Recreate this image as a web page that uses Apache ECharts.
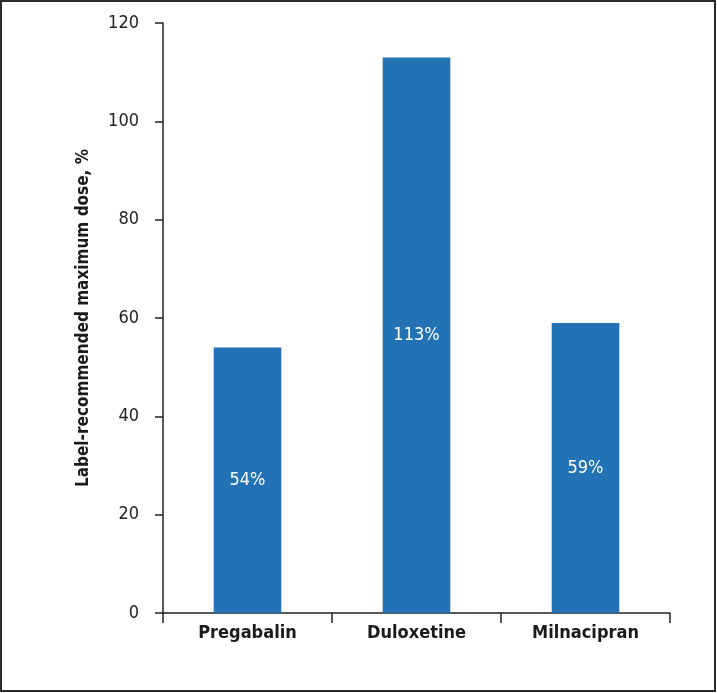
<!DOCTYPE html>
<html><head><meta charset="utf-8">
<script src="https://cdn.jsdelivr.net/npm/echarts@6/dist/echarts.min.js"></script>
<style>html,body{margin:0;padding:0;background:#fff}#c{width:717px;height:693px}</style>
</head><body><div id="c"></div>
<script>
var categories = ['Pregabalin', 'Duloxetine', 'Milnacipran'];
var values = [54, 113, 59];
var valueLabels = ['54%', '113%', '59%'];
var yTicks = [0, 20, 40, 60, 80, 100, 120];

var FONT = '"Liberation Sans Narrow", "DejaVu Sans Condensed", "Arial Narrow", sans-serif';
var chart = echarts.init(document.getElementById('c'), null, {renderer: 'canvas'});
chart.setOption({
  animation: false,
  backgroundColor: '#fff',
  graphic: [{
    type: 'rect', z: 100,
    shape: {x: 1, y: 1, width: 714, height: 690},
    style: {fill: 'none', stroke: '#2b2b2b', lineWidth: 2}
  }],
  grid: {left: 163, right: 47, top: 23, bottom: 80},
  xAxis: {
    type: 'category',
    data: categories,
    axisLine: {lineStyle: {color: '#222', width: 1.5}},
    axisTick: {show: true, length: 10, alignWithLabel: false, lineStyle: {color: '#222', width: 1.5}},
    axisLabel: {fontFamily: FONT, fontSize: 18, fontWeight: 'bold', color: '#1a1a1a', margin: 11}
  },
  yAxis: {
    type: 'value', min: yTicks[0], max: yTicks[yTicks.length - 1], interval: 20,
    name: 'Label-recommended maximum dose, %',
    nameLocation: 'middle', nameGap: 71,
    nameTextStyle: {fontFamily: FONT, fontSize: 17, fontWeight: 'bold', color: '#1a1a1a'},
    axisLine: {show: true, lineStyle: {color: '#222', width: 1.5}},
    axisTick: {show: true, length: 8, lineStyle: {color: '#222', width: 1.5}},
    axisLabel: {fontFamily: FONT, fontSize: 18, color: '#222', margin: 24},
    splitLine: {show: false}
  },
  series: [{
    type: 'bar',
    data: values,
    barWidth: '40%',
    itemStyle: {color: '#2272b5'},
    label: {
      show: true, position: 'inside',
      formatter: function (p) { return valueLabels[p.dataIndex]; },
      fontFamily: FONT, fontSize: 18, color: '#fff'
    }
  }]
});
</script></body></html>
